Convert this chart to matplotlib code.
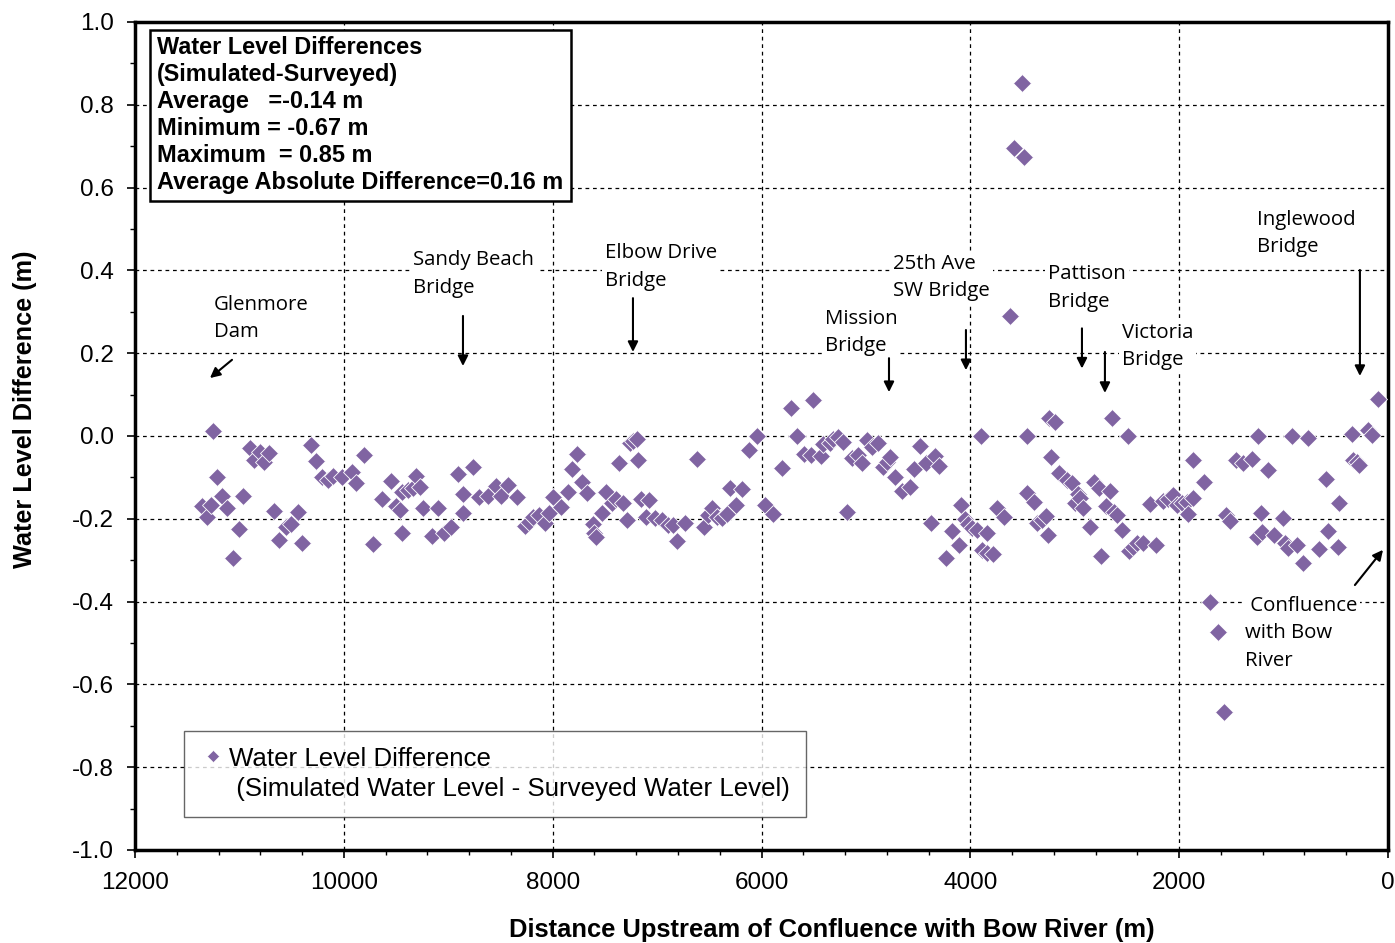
import matplotlib
matplotlib.use("Agg")
import matplotlib.pyplot as plt
from matplotlib.ticker import MultipleLocator, FormatStrFormatter
from matplotlib.patches import Rectangle
from matplotlib.lines import Line2D

# ---------------- data ----------------
distance = [
    11361, 11313, 11275, 11256, 11218, 11167, 11116, 11058, 11004, 10963,
    10899, 10857, 10803, 10765, 10714, 10669, 10618, 10557, 10506, 10442,
    10398, 10318, 10267, 10212, 10155, 10101, 10021, 9925, 9884, 9804,
    9718, 9632, 9548, 9504, 9462, 9447, 9440, 9383, 9335, 9309,
    9271, 9240, 9159, 9096, 9041, 8975, 8904, 8862, 8858, 8760,
    8703, 8617, 8543, 8498, 8431, 8339, 8265, 8224, 8185, 8131,
    8074, 8033, 7994, 7923, 7856, 7818, 7764, 7722, 7674, 7617,
    7604, 7585, 7525, 7489, 7430, 7397, 7363, 7330, 7286, 7260,
    7228, 7190, 7185, 7154, 7109, 7075, 7020, 6956, 6893, 6845,
    6812, 6733, 6615, 6548, 6510, 6477, 6430, 6382, 6334, 6302,
    6245, 6190, 6120, 6046, 5967, 5893, 5801, 5721, 5663, 5593,
    5526, 5504, 5433, 5408, 5344, 5313, 5270, 5216, 5178, 5131,
    5073, 5041, 4993, 4945, 4881, 4840, 4801, 4770, 4722, 4658,
    4578, 4538, 4482, 4425, 4377, 4339, 4297, 4237, 4179, 4109,
    4093, 4052, 4020, 3987, 3940, 3902, 3892, 3845, 3840, 3787,
    3749, 3678, 3620, 3582, 3509, 3486, 3461, 3455, 3391, 3359,
    3317, 3276, 3253, 3244, 3231, 3189, 3148, 3078, 3030, 2998,
    2966, 2950, 2918, 2854, 2813, 2765, 2752, 2705, 2663, 2647,
    2624, 2593, 2552, 2488, 2480, 2440, 2402, 2345, 2280, 2222,
    2152, 2104, 2056, 2024, 1976, 1928, 1919, 1871, 1866, 1764,
    1705, 1625, 1568, 1547, 1514, 1456, 1386, 1306, 1258, 1249,
    1216, 1210, 1147, 1093, 1010, 988, 956, 924, 870, 813,
    765, 662, 598, 573, 477, 468, 348, 333, 295, 278,
    189, 157, 93,
]
difference = [
    -0.169, -0.195, -0.167, 0.013, -0.100, -0.145, -0.175, -0.294, -0.225, -0.145,
    -0.030, -0.058, -0.038, -0.064, -0.040, -0.180, -0.252, -0.219, -0.213, -0.183,
    -0.259, -0.022, -0.060, -0.100, -0.106, -0.096, -0.100, -0.088, -0.114, -0.046,
    -0.261, -0.152, -0.108, -0.169, -0.179, -0.136, -0.234, -0.130, -0.126, -0.096,
    -0.122, -0.175, -0.241, -0.175, -0.235, -0.221, -0.092, -0.141, -0.185, -0.076,
    -0.148, -0.145, -0.121, -0.145, -0.118, -0.147, -0.217, -0.207, -0.195, -0.191,
    -0.209, -0.187, -0.148, -0.172, -0.136, -0.080, -0.043, -0.110, -0.138, -0.213,
    -0.235, -0.243, -0.187, -0.136, -0.163, -0.153, -0.066, -0.163, -0.203, -0.018,
    -0.011, -0.008, -0.058, -0.152, -0.196, -0.155, -0.199, -0.203, -0.215, -0.215,
    -0.253, -0.209, -0.056, -0.221, -0.191, -0.173, -0.195, -0.199, -0.188, -0.125,
    -0.167, -0.128, -0.034, 0.001, -0.167, -0.188, -0.078, 0.067, 0.000, -0.043,
    -0.046, 0.087, -0.048, -0.019, -0.018, -0.008, -0.003, -0.014, -0.183, -0.054,
    -0.046, -0.066, -0.010, -0.026, -0.016, -0.076, -0.062, -0.051, -0.100, -0.134,
    -0.124, -0.080, -0.023, -0.066, -0.209, -0.048, -0.072, -0.294, -0.229, -0.263,
    -0.167, -0.201, -0.213, -0.223, -0.227, 0.000, -0.275, -0.282, -0.234, -0.285,
    -0.175, -0.195, 0.290, 0.696, 0.853, 0.673, 0.000, -0.137, -0.160, -0.211,
    -0.203, -0.193, -0.239, 0.043, -0.051, 0.035, -0.089, -0.106, -0.113, -0.163,
    -0.139, -0.150, -0.175, -0.219, -0.110, -0.126, -0.291, -0.169, -0.134, 0.043,
    -0.183, -0.191, -0.227, 0.000, -0.277, -0.267, -0.259, -0.259, -0.165, -0.263,
    -0.156, -0.153, -0.143, -0.167, -0.163, -0.160, -0.188, -0.150, -0.058, -0.110,
    -0.401, -0.474, -0.666, -0.191, -0.205, -0.058, -0.066, -0.056, -0.243, 0.000,
    -0.187, -0.231, -0.082, -0.239, -0.199, -0.259, -0.271, 0.000, -0.263, -0.306,
    -0.004, -0.274, -0.105, -0.229, -0.269, -0.163, 0.004, -0.058, -0.062, -0.070,
    0.014, 0.002, 0.089,
]

x_ticks = [12000, 10000, 8000, 6000, 4000, 2000, 0]
y_ticks = [-1.0, -0.8, -0.6, -0.4, -0.2, 0.0, 0.2, 0.4, 0.6, 0.8, 1.0]

# annotation labels: (text, text_x, text_y_top, arrow_tail, arrow_head)
landmarks = [
    ("Glenmore\nDam", 11243, 0.341, (11071, 0.184), (11282, 0.140)),
    ("Sandy Beach\nBridge", 9338, 0.449, (8859, 0.290), (8859, 0.169)),
    ("Elbow Drive\nBridge", 7499, 0.466, (7231, 0.333), (7231, 0.203)),
    ("Mission\nBridge", 5392, 0.307, (4779, 0.188), (4779, 0.106)),
    ("25th Ave\nSW Bridge", 4741, 0.440, (4042, 0.256), (4042, 0.159)),
    ("Pattison\nBridge", 3256, 0.415, (2931, 0.260), (2931, 0.163)),
    ("Victoria\nBridge", 2548, 0.273, (2711, 0.203), (2711, 0.104)),
    ("Inglewood\nBridge", 1255, 0.546, (269, 0.401), (269, 0.145)),
    (" Confluence\nwith Bow\nRiver", 1370, -0.386, (317, -0.360), (48, -0.275)),
]

stats_lines = [
    "Water Level Differences",
    "(Simulated-Surveyed)",
    "Average   =-0.14 m",
    "Minimum = -0.67 m",
    "Maximum  = 0.85 m",
    "Average Absolute Difference=0.16 m",
]

# ---------------- figure ----------------
W, H = 1395, 943
fig = plt.figure(figsize=(W / 100, H / 100), dpi=100)
ax = fig.add_axes([135 / W, (H - 850) / H, (1388 - 135) / W, (850 - 22) / H])

purple = "#8064A2"
ax.plot(distance, difference, linestyle="none", marker="D", markersize=9,
        color=purple, markeredgecolor="white", markeredgewidth=0.6, zorder=3)

ax.set_xlim(12000, 0)
ax.set_ylim(-1.0, 1.0)
ax.set_xticks(x_ticks)
ax.set_yticks(y_ticks)
ax.xaxis.set_minor_locator(MultipleLocator(400))
ax.yaxis.set_minor_locator(MultipleLocator(0.1))
ax.yaxis.set_major_formatter(FormatStrFormatter("%.1f"))
ax.xaxis.set_major_formatter(FormatStrFormatter("%d"))

for lab in ax.get_xticklabels() + ax.get_yticklabels():
    lab.set_fontfamily("Liberation Sans")
    lab.set_fontsize(17.5)
ax.tick_params(which="major", direction="out", length=6, width=1.2)
ax.tick_params(which="minor", direction="out", length=3.6, width=1.0)
ax.tick_params(axis="x", which="major", pad=10)
ax.tick_params(axis="y", which="major", pad=9)

ax.grid(True, which="major", color="black", linestyle=(0, (3, 3)), linewidth=0.9)
ax.set_axisbelow(True)
for sp in ax.spines.values():
    sp.set_linewidth(2.5)
    sp.set_color("black")

ax.set_xlabel("Distance Upstream of Confluence with Bow River (m)",
              fontfamily="Liberation Sans", fontweight="bold", fontsize=18.4)
ax.xaxis.set_label_coords((832 - 135) / 1253, -(930 - 850) / 828)
ax.xaxis.label.set_va("center")
ax.set_ylabel("Water Level Difference (m)",
              fontfamily="Liberation Sans", fontweight="bold", fontsize=18.2)
ax.yaxis.set_label_coords(-(135 - 25) / 1253, (850 - 409) / 828)
ax.yaxis.label.set_va("center")

# landmarks
for text, tx, ty, tail, head in landmarks:
    ax.text(tx, ty, text, fontfamily="Open Sans", fontsize=14.7, ha="left", va="top",
            linespacing=1.5, zorder=4,
            bbox=dict(facecolor="white", edgecolor="none", pad=2))
    ax.annotate("", xy=head, xytext=tail,
                arrowprops=dict(arrowstyle="-|>,head_length=0.6,head_width=0.3",
                                color="black", lw=1.5, shrinkA=0, shrinkB=0),
                zorder=5)

# stats box
ax.add_patch(Rectangle(((150 - 135) / 1253, (850 - 201) / 828), (571 - 150) / 1253,
                       (201 - 30) / 828, transform=ax.transAxes, facecolor="white",
                       edgecolor="black", linewidth=1.8, zorder=6))
ax.text((157 - 135) / 1253, (850 - 36) / 828, "\n".join(stats_lines),
        transform=ax.transAxes, ha="left", va="top", fontfamily="Liberation Sans",
        fontweight="bold", fontsize=16.9, linespacing=1.22, zorder=7)

# legend
handles = [
    Line2D([], [], linestyle="none", marker="D", markersize=6.5, color=purple,
           markeredgecolor="white", markeredgewidth=0.4),
    Line2D([], [], linestyle="none", marker=None),
]
labels = ["Water Level Difference", " (Simulated Water Level - Surveyed Water Level)"]
leg = ax.legend(handles, labels, loc="lower left",
                bbox_to_anchor=((184 - 135) / 1253, (850 - 817) / 828),
                borderaxespad=0, frameon=True, fancybox=False, edgecolor="#404040",
                handlelength=1.0, handletextpad=0.12, borderpad=0.62, labelspacing=0.25,
                prop={"family": "Liberation Sans", "size": 18.6})
leg.get_frame().set_linewidth(1.0)
leg.set_zorder(8)

fig.savefig("out.png", dpi=100)
